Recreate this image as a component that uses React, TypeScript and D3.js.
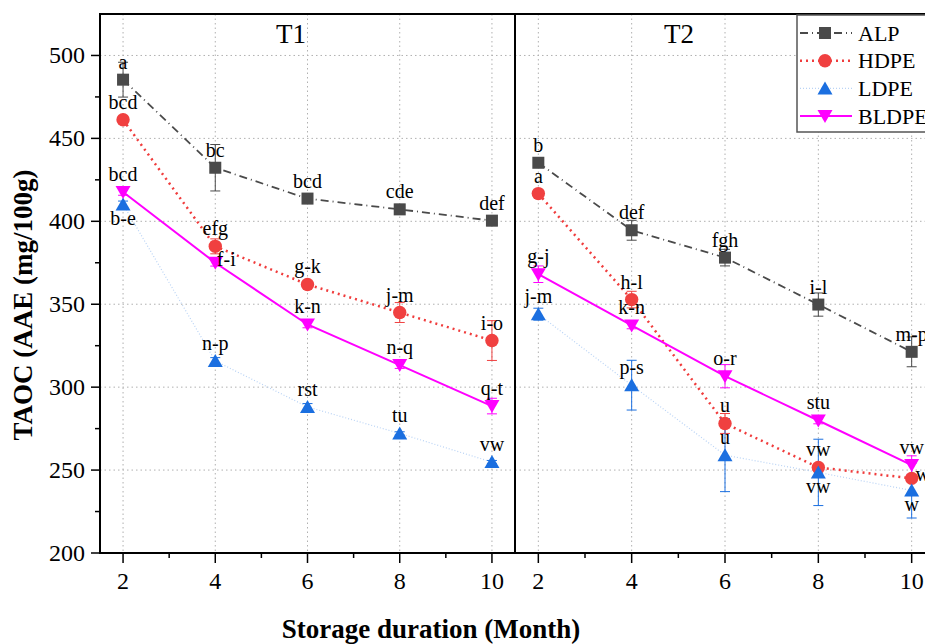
import React from 'react';
import * as d3 from 'd3';

const months = [2, 4, 6, 8, 10];
const seriesNames = ['ALP', 'HDPE', 'LDPE', 'BLDPE'];
const yTicks = [200, 250, 300, 350, 400, 450, 500];
const panelTitles = ['T1', 'T2'];

// T1 values
const t1ALP = [485.4, 432.3, 413.7, 407.2, 400.4];
const t1HDPE = [461.2, 384.9, 361.9, 345.0, 328.1];
const t1LDPE = [410.2, 315.8, 288.1, 272.1, 254.8];
const t1BLDPE = [417.7, 375.0, 337.8, 313.3, 288.6];
// T2 values
const t2ALP = [435.3, 394.6, 378.1, 349.8, 321.3];
const t2HDPE = [416.7, 352.8, 278.1, 251.6, 245.0];
const t2LDPE = [344.0, 301.2, 259.0, 248.6, 237.7];
const t2BLDPE = [368.1, 337.2, 306.6, 279.9, 253.0];
// errors
const t1ALPErr = [10.5, 14, 3, 3, 3];
const t1HDPEErr = [2, 4.5, 2, 6, 12];
const t1LDPEErr = [2, 2, 2, 1, 1];
const t1BLDPEErr = [2, 2, 2, 2, 4.7];
const t2ALPErr = [2, 6, 5, 7, 9];
const t2HDPEErr = [2, 5, 6, 2, 2];
const t2LDPEErr = [3.6, 15, 22, 20, 16.6];
const t2BLDPEErr = [5, 2, 7, 2, 5.6];
// significance letters
const t1ALPLbl = ['a', 'bc', 'bcd', 'cde', 'def'];
const t1HDPELbl = ['bcd', 'efg', 'g-k', 'j-m', 'i-o'];
const t1LDPELbl = ['b-e', 'n-p', 'rst', 'tu', 'vw'];
const t1BLDPELbl = ['bcd', 'f-i', 'k-n', 'n-q', 'q-t'];
const t2ALPLbl = ['b', 'def', 'fgh', 'i-l', 'm-p'];
const t2HDPELbl = ['a', 'h-l', 'u', 'vw', 'w'];
const t2LDPELbl = ['j-m', 'p-s', 'u', 'vw', 'w'];
const t2BLDPELbl = ['g-j', 'k-n', 'o-r', 'stu', 'vw'];
// letter placement relative to marker
const t1LDPEPos = ['below', 'above', 'above', 'above', 'above'];
const t1BLDPEPos = ['above', 'right', 'above', 'above', 'above'];
const t2HDPEPos = ['above', 'above', 'above', 'above', 'right'];
const t2LDPEPos = ['above', 'above', 'above', 'below', 'below'];
const allAbove = ['above', 'above', 'above', 'above', 'above'];

const panels = [
  {
    vals: [t1ALP, t1HDPE, t1LDPE, t1BLDPE],
    errs: [t1ALPErr, t1HDPEErr, t1LDPEErr, t1BLDPEErr],
    lbls: [t1ALPLbl, t1HDPELbl, t1LDPELbl, t1BLDPELbl],
    pos: [allAbove, allAbove, t1LDPEPos, t1BLDPEPos],
  },
  {
    vals: [t2ALP, t2HDPE, t2LDPE, t2BLDPE],
    errs: [t2ALPErr, t2HDPEErr, t2LDPEErr, t2BLDPEErr],
    lbls: [t2ALPLbl, t2HDPELbl, t2LDPELbl, t2BLDPELbl],
    pos: [allAbove, t2HDPEPos, t2LDPEPos, allAbove],
  },
];

const styles = [
  { line: '#4a4a4a', marker: '#4a4a4a', dash: '8,4,1,4', width: 1.8, shape: 'square' },
  { line: '#f03c3c', marker: '#f04040', dash: '2,4', width: 2.5, shape: 'circle' },
  { line: '#b9d3f5', marker: '#1b6fe0', dash: '1,2', width: 1.2, shape: 'up' },
  { line: '#ff00ff', marker: '#ff00ff', dash: '', width: 2, shape: 'down' },
];

const FONT = '"Liberation Serif", "Times New Roman", serif';

function Marker({ shape, x, y, color }: { shape: string; x: number; y: number; color: string }) {
  if (shape === 'square') return <rect x={x - 6} y={y - 6} width={12} height={12} fill={color} />;
  if (shape === 'circle') return <circle cx={x} cy={y} r={6.7} fill={color} />;
  if (shape === 'up')
    return <path d={`M${x},${y - 7}L${x + 7.5},${y + 6}L${x - 7.5},${y + 6}Z`} fill={color} />;
  return <path d={`M${x},${y + 7}L${x + 7.5},${y - 6}L${x - 7.5},${y - 6}Z`} fill={color} />;
}

export default function App() {
  const W = 925, H = 644;
  const top = 14, bottom = 553;
  const y = d3.scaleLinear().domain([200, 525]).range([bottom, top]);
  const xs = [
    d3.scaleLinear().domain([1.5, 10.5]).range([100, 515]),
    d3.scaleLinear().domain([1.5, 10.5]).range([515, 935]),
  ];
  const minorY = d3.range(225, 525, 50);
  const minorX = [3, 5, 7, 9];

  return (
    <div style={{ position: 'absolute', left: 0, top: 0 }}>
      <svg width={W} height={H} style={{ display: 'block', background: '#fff', fontFamily: FONT }}>
        {/* grid */}
        {xs.map((x, pi) => (
          <g key={'grid' + pi}>
            {months.map((m) => (
              <line key={'gx' + m} x1={x(m)} x2={x(m)} y1={top} y2={bottom} stroke="#b0b0b0" strokeWidth={1} strokeDasharray="1.5,3" />
            ))}
            {yTicks.slice(1).map((v) => (
              <line key={'gy' + v} x1={x.range()[0]} x2={x.range()[1]} y1={y(v)} y2={y(v)} stroke="#b0b0b0" strokeWidth={1} strokeDasharray="1.5,3" />
            ))}
          </g>
        ))}
        {/* series */}
        {panels.map((p, pi) => {
          const x = xs[pi];
          return (
            <g key={'panel' + pi}>
              {p.vals.map((vals, si) => {
                const st = styles[si];
                const line = d3
                  .line<number>()
                  .x((_, i) => x(months[i]))
                  .y((v) => y(v));
                return (
                  <path key={'l' + si} d={line(vals) || ''} fill="none" stroke={st.line} strokeWidth={st.width} strokeDasharray={st.dash || undefined} />
                );
              })}
              {p.vals.map((vals, si) => {
                const st = styles[si];
                return (
                  <g key={'e' + si} stroke={st.marker} strokeWidth={1}>
                    {vals.map((v, i) => {
                      const cx = x(months[i]);
                      const e = p.errs[si][i];
                      const y1 = y(v + e), y2 = y(v - e);
                      return (
                        <g key={i}>
                          <line x1={cx} x2={cx} y1={y1} y2={y2} />
                          <line x1={cx - 5} x2={cx + 5} y1={y1} y2={y1} />
                          <line x1={cx - 5} x2={cx + 5} y1={y2} y2={y2} />
                        </g>
                      );
                    })}
                  </g>
                );
              })}
              {p.vals.map((vals, si) => (
                <g key={'m' + si}>
                  {vals.map((v, i) => (
                    <Marker key={i} shape={styles[si].shape} x={x(months[i])} y={y(v)} color={styles[si].marker} />
                  ))}
                </g>
              ))}
              {p.vals.map((vals, si) => (
                <g key={'t' + si} fontSize={20} fill="#000">
                  {vals.map((v, i) => {
                    const pos = p.pos[si][i];
                    const cx = x(months[i]);
                    const cy = y(v);
                    let tx = cx, ty = cy - 11;
                    if (pos === 'below') ty = cy + 21;
                    if (pos === 'right') { tx = cx + 11; ty = cy + 3; }
                    return (
                      <text key={i} x={tx} y={ty} textAnchor="middle">{p.lbls[si][i]}</text>
                    );
                  })}
                </g>
              ))}
            </g>
          );
        })}
        {/* axes frame */}
        <g stroke="#000" strokeWidth={2} fill="none">
          <line x1={100} x2={W} y1={top} y2={top} />
          <line x1={100} x2={W} y1={bottom} y2={bottom} />
          <line x1={100} x2={100} y1={top - 1} y2={bottom + 1} />
          <line x1={515} x2={515} y1={top - 1} y2={bottom + 1} />
        </g>
        {/* ticks */}
        <g stroke="#000" strokeWidth={1.5}>
          {yTicks.map((v) => (
            <line key={'yt' + v} x1={91} x2={100} y1={y(v)} y2={y(v)} />
          ))}
          {minorY.map((v) => (
            <line key={'ym' + v} x1={95} x2={100} y1={y(v)} y2={y(v)} />
          ))}
          {xs.map((x, pi) => (
            <g key={'xt' + pi}>
              {months.map((m) => (
                <line key={'M' + m} x1={x(m)} x2={x(m)} y1={bottom} y2={bottom + 10} />
              ))}
              {minorX.map((m) => (
                <line key={'m' + m} x1={x(m)} x2={x(m)} y1={bottom} y2={bottom + 5} />
              ))}
            </g>
          ))}
        </g>
        <g fontSize={24} fill="#000">
          {yTicks.map((v) => (
            <text key={'yl' + v} x={85} y={y(v)} textAnchor="end" dominantBaseline="central">{v}</text>
          ))}
          {xs.map((x, pi) =>
            months.map((m) => (
              <text key={'xl' + pi + m} x={x(m)} y={589} textAnchor="middle">{m}</text>
            ))
          )}
        </g>
        {/* panel titles */}
        {xs.map((x, pi) => (
          <text key={'pt' + pi} x={pi === 0 ? 291 : 679} y={43} fontSize={27} textAnchor="middle">{panelTitles[pi]}</text>
        ))}
        {/* axis titles */}
        <text x={431} y={638} fontSize={27} fontWeight="bold" textAnchor="middle">Storage duration (Month)</text>
        <text transform={`translate(32,${305}) rotate(-90)`} fontSize={27} fontWeight="bold" textAnchor="middle">TAOC (AAE (mg/100g)</text>
        {/* legend */}
        <g>
          <rect x={797} y={15} width={145} height={117} fill="#fff" stroke="#555" strokeWidth={1.5} />
          {seriesNames.map((n, i) => {
            const ly = 33 + i * 27.7;
            const st = styles[i];
            return (
              <g key={'lg' + n}>
                <line x1={800} x2={852} y1={ly} y2={ly} stroke={st.line} strokeWidth={st.width} strokeDasharray={st.dash || undefined} />
                <Marker shape={st.shape} x={825} y={ly} color={st.marker} />
                <text x={858} y={ly} fontSize={22} dominantBaseline="central">{n}</text>
              </g>
            );
          })}
        </g>
      </svg>
    </div>
  );
}
